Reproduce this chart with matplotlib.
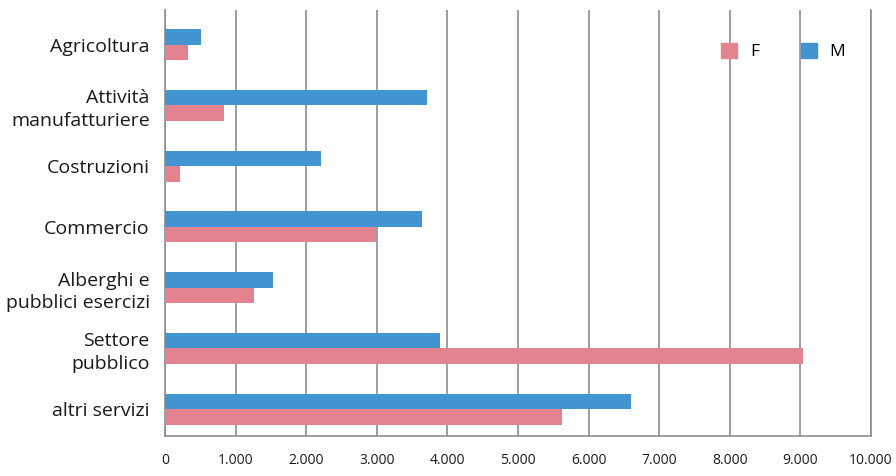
import matplotlib
matplotlib.use("Agg")
import matplotlib.pyplot as plt
from matplotlib.ticker import FuncFormatter
from matplotlib.patches import Patch
import numpy as np

plt.rcParams['font.family'] = ['Open Sans', 'DejaVu Sans']

categories = ["Agricoltura", "Attività\nmanufatturiere", "Costruzioni", "Commercio",
              "Alberghi e\npubblici esercizi", "Settore\npubblico", "altri servizi"]
male = [510, 3710, 2210, 3635, 1530, 3895, 6600]
female = [326, 836, 212, 2990, 1261, 9037, 5620]
x_ticks = [0, 1000, 2000, 3000, 4000, 5000, 6000, 7000, 8000, 9000, 10000]

BLUE = "#4395d1"
PINK = "#e3838f"
GRID = "#8c8c94"

fig = plt.figure(figsize=(8.96, 4.76), dpi=100)
ax = fig.add_axes([165 / 896, 40 / 476, 706 / 896, 426 / 476])

pos = np.arange(len(categories))[::-1]
h = 0.255
ax.barh(pos + h / 2, male, height=h, color=BLUE, zorder=3)
ax.barh(pos - h / 2, female, height=h, color=PINK, zorder=3)

ax.set_xlim(0, 10000)
ax.set_ylim(-0.44, 6.57)
ax.set_xticks(x_ticks)
ax.xaxis.set_major_formatter(FuncFormatter(lambda v, p: f"{int(v):,}".replace(",", ".")))
ax.set_yticks(pos)
ax.set_yticklabels(categories)
ax.tick_params(axis="x", length=0, pad=12, labelsize=10, labelcolor="#1a1a1a")
ax.tick_params(axis="y", length=0, pad=11, labelsize=14, labelcolor="#1a1a1a")
for lab in ax.get_yticklabels():
    lab.set_linespacing(1.3)

ax.grid(axis="x", color=GRID, linewidth=1.2, zorder=0)
ax.spines["top"].set_visible(False)
for s in ["left", "bottom", "right"]:
    ax.spines[s].set_color(GRID)
    ax.spines[s].set_linewidth(1.2)

handles = [Patch(color=PINK, label="F"), Patch(color=BLUE, label="M")]
fig.legend(handles=handles, ncol=2, frameon=False, loc="upper left",
           bbox_to_anchor=(721 / 896, 1 - 43 / 476), borderpad=0, borderaxespad=0,
           handlelength=0.92, handleheight=0.92, columnspacing=2.4,
           handletextpad=0.75, fontsize=12.5)

fig.savefig("out.png", dpi=100)
